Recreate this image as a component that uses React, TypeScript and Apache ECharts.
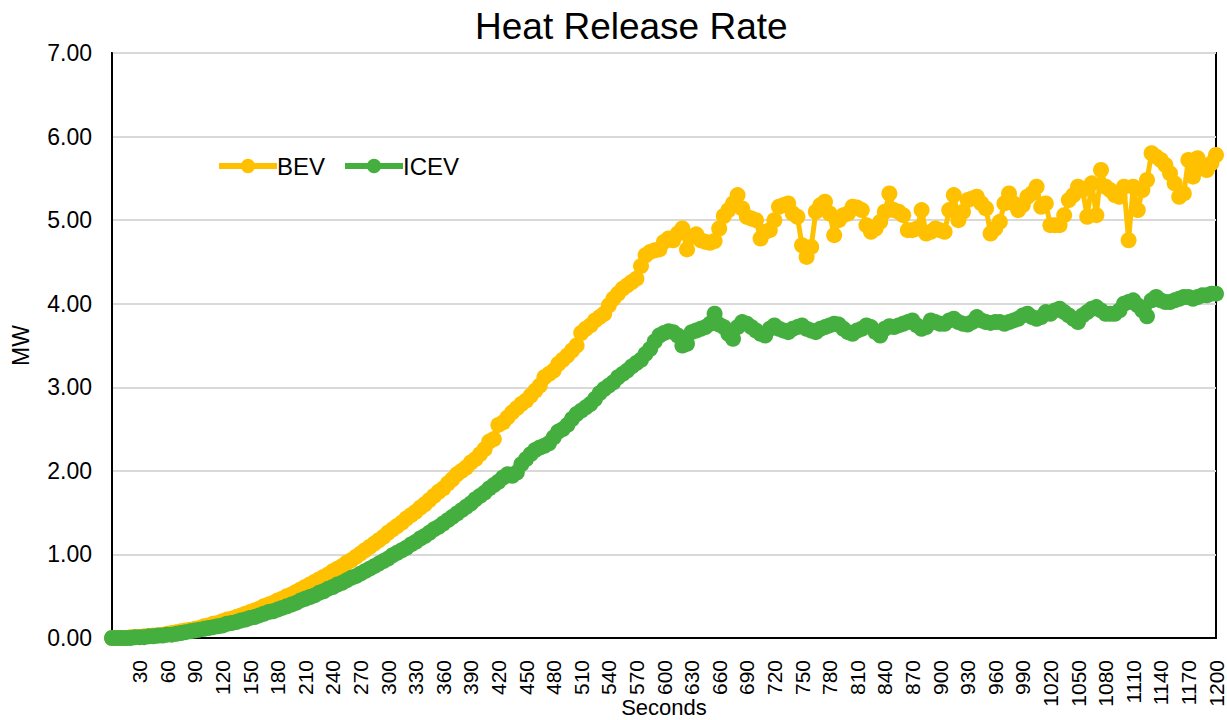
import React, { useEffect, useRef } from "react";
import * as echarts from "echarts";

// Sampling grid: every 5 seconds from 0 to 1200
const STEP = 5;
const bev: number[] = [
  0.00, 0.00, 0.00, 0.00, 0.01, 0.01, 0.01, 0.02, 0.02, 0.03,
  0.03, 0.04, 0.05, 0.06, 0.07, 0.08, 0.09, 0.10, 0.11, 0.12,
  0.14, 0.15, 0.17, 0.18, 0.20, 0.22, 0.23, 0.25, 0.27, 0.29,
  0.31, 0.33, 0.35, 0.38, 0.40, 0.42, 0.45, 0.47, 0.50, 0.52,
  0.55, 0.58, 0.61, 0.64, 0.67, 0.70, 0.73, 0.76, 0.80, 0.83,
  0.86, 0.90, 0.93, 0.97, 1.01, 1.05, 1.09, 1.13, 1.17, 1.21,
  1.26, 1.30, 1.34, 1.38, 1.43, 1.47, 1.51, 1.56, 1.60, 1.65,
  1.70, 1.75, 1.79, 1.85, 1.90, 1.96, 2.00, 2.04, 2.10, 2.14,
  2.20, 2.26, 2.35, 2.38, 2.55, 2.58, 2.64, 2.70, 2.75, 2.80,
  2.84, 2.90, 2.96, 3.02, 3.12, 3.16, 3.20, 3.28, 3.33, 3.38,
  3.44, 3.50, 3.65, 3.70, 3.74, 3.80, 3.84, 3.88, 3.98, 4.06,
  4.12, 4.18, 4.22, 4.26, 4.30, 4.45, 4.58, 4.62, 4.64, 4.65,
  4.74, 4.78, 4.76, 4.84, 4.90, 4.65, 4.80, 4.83, 4.76, 4.74,
  4.73, 4.75, 4.90, 5.05, 5.12, 5.20, 5.30, 5.14, 5.04, 5.02,
  5.00, 4.78, 4.86, 4.88, 5.00, 5.16, 5.18, 5.20, 5.08, 5.04,
  4.70, 4.56, 4.68, 5.10, 5.18, 5.22, 5.08, 4.82, 5.00, 5.06,
  5.08, 5.16, 5.15, 5.12, 4.94, 4.86, 4.90, 4.98, 5.10, 5.32,
  5.12, 5.10, 5.06, 4.88, 4.88, 4.90, 5.12, 4.84, 4.86, 4.90,
  4.88, 4.86, 5.12, 5.30, 5.00, 5.10, 5.24, 5.26, 5.28, 5.20,
  5.14, 4.84, 4.90, 4.98, 5.20, 5.32, 5.20, 5.12, 5.18, 5.28,
  5.32, 5.40, 5.16, 5.20, 4.94, 4.94, 4.94, 5.06, 5.24, 5.30,
  5.40, 5.36, 5.04, 5.44, 5.06, 5.60, 5.40, 5.36, 5.30, 5.28,
  5.40, 4.76, 5.40, 5.12, 5.36, 5.48, 5.80, 5.76, 5.72, 5.66,
  5.56, 5.44, 5.28, 5.32, 5.72, 5.52, 5.74, 5.62, 5.60, 5.68,
  5.78,
];
const icev: number[] = [
  0.00, 0.00, 0.00, 0.00, 0.00, 0.01, 0.01, 0.01, 0.02, 0.02,
  0.03, 0.03, 0.04, 0.04, 0.05, 0.06, 0.07, 0.08, 0.09, 0.10,
  0.11, 0.12, 0.13, 0.14, 0.15, 0.17, 0.18, 0.19, 0.21, 0.22,
  0.24, 0.25, 0.27, 0.29, 0.31, 0.32, 0.34, 0.36, 0.38, 0.40,
  0.42, 0.45, 0.47, 0.49, 0.51, 0.54, 0.56, 0.59, 0.61, 0.64,
  0.66, 0.69, 0.72, 0.74, 0.77, 0.80, 0.83, 0.86, 0.89, 0.92,
  0.95, 0.99, 1.02, 1.05, 1.08, 1.12, 1.15, 1.19, 1.22, 1.26,
  1.30, 1.33, 1.37, 1.41, 1.45, 1.49, 1.53, 1.57, 1.61, 1.66,
  1.70, 1.74, 1.79, 1.83, 1.87, 1.92, 1.96, 1.94, 1.98, 2.08,
  2.14, 2.20, 2.25, 2.28, 2.30, 2.33, 2.40, 2.47, 2.50, 2.55,
  2.62, 2.68, 2.72, 2.76, 2.80, 2.86, 2.93, 2.98, 3.02, 3.06,
  3.12, 3.16, 3.20, 3.25, 3.29, 3.33, 3.40, 3.46, 3.55, 3.62,
  3.65, 3.67, 3.66, 3.62, 3.50, 3.52, 3.66, 3.68, 3.70, 3.72,
  3.76, 3.88, 3.75, 3.72, 3.64, 3.58, 3.72, 3.78, 3.76, 3.72,
  3.68, 3.64, 3.62, 3.70, 3.74, 3.70, 3.68, 3.66, 3.70, 3.72,
  3.74, 3.70, 3.68, 3.66, 3.70, 3.72, 3.74, 3.76, 3.75, 3.70,
  3.66, 3.64, 3.68, 3.70, 3.74, 3.72, 3.66, 3.62, 3.70, 3.73,
  3.72, 3.74, 3.76, 3.78, 3.80, 3.74, 3.70, 3.72, 3.80, 3.78,
  3.76, 3.76, 3.80, 3.82, 3.78, 3.76, 3.75, 3.78, 3.84, 3.80,
  3.78, 3.77, 3.78, 3.78, 3.76, 3.78, 3.80, 3.82, 3.86, 3.88,
  3.84, 3.82, 3.84, 3.90, 3.88, 3.92, 3.94, 3.90, 3.86, 3.82,
  3.78, 3.86, 3.90, 3.94, 3.96, 3.92, 3.88, 3.88, 3.88, 3.92,
  4.00, 4.02, 4.04, 3.98, 3.92, 3.85, 4.04, 4.08, 4.04, 4.02,
  4.02, 4.04, 4.06, 4.08, 4.08, 4.06, 4.08, 4.10, 4.10, 4.12,
  4.12,
];
const seconds: number[] = bev.map((_, i) => i * STEP);
const seriesNames = ["BEV", "ICEV"];
const seriesColors = ["#FFC000", "#44AF3E"];

const FONT = "'Liberation Sans', Arial, sans-serif";

export default function App() {
  const ref = useRef<HTMLDivElement>(null);
  useEffect(() => {
    if (!ref.current) return;
    const chart = echarts.init(ref.current, undefined, { renderer: "svg" });
    const mk = (name: string, vals: number[], color: string) => ({
      name,
      type: "line",
      data: vals.map((v, i) => [seconds[i], v]),
      symbol: "circle",
      symbolSize: 16,
      showSymbol: true,
      lineStyle: { color, width: 5 },
      itemStyle: { color },
    });
    chart.setOption({
      animation: false,
      backgroundColor: "#fff",
      textStyle: { fontFamily: FONT, color: "#000" },
      title: {
        text: "Heat Release Rate",
        left: 475,
        top: 8,
        padding: 0,
        textStyle: { fontSize: 37, fontWeight: "normal", color: "#000", fontFamily: FONT },
      },
      legend: {
        left: 216,
        top: 154,
        padding: 0,
        itemWidth: 58,
        itemHeight: 18,
        itemGap: 17,
        lineStyle: { width: 6 },
        textStyle: { fontSize: 24, color: "#000", fontFamily: FONT, padding: [0, 0, 0, -5] },
        data: seriesNames,
      },
      grid: {
        left: 112,
        right: 11,
        top: 53,
        bottom: 82,
        show: true,
        borderColor: "#000",
        borderWidth: 2,
        containLabel: false,
        outerBoundsMode: "none",
      },
      xAxis: {
        type: "value",
        min: 0,
        max: 1200,
        interval: 30,
        name: "Seconds",
        nameLocation: "middle",
        nameGap: 58,
        nameMoveOverlap: false,
        nameTextStyle: { fontSize: 22, color: "#000", fontFamily: FONT },
        axisLine: { show: true, lineStyle: { color: "#000", width: 2 } },
        axisTick: { show: false },
        splitLine: { show: false },
        axisLabel: {
          rotate: 90,
          fontSize: 21,
          color: "#000",
          fontFamily: FONT,
          margin: 22,
          hideOverlap: false,
          formatter: (v: number) => (v === 0 ? "" : String(v)),
        },
      },
      yAxis: {
        type: "value",
        min: 0,
        max: 7,
        interval: 1,
        name: "MW",
        nameLocation: "middle",
        nameGap: 80,
        nameTextStyle: { fontSize: 23, color: "#000", fontFamily: FONT },
        axisLine: { show: true, lineStyle: { color: "#000", width: 2 } },
        axisTick: { show: false },
        splitLine: { show: true, lineStyle: { color: "#D9D9D9", width: 2 } },
        axisLabel: {
          fontSize: 23,
          color: "#000",
          fontFamily: FONT,
          margin: 20,
          formatter: (v: number) => v.toFixed(2),
        },
      },
      series: [
        mk(seriesNames[0], bev, seriesColors[0]),
        mk(seriesNames[1], icev, seriesColors[1]),
      ],
    });
    return () => chart.dispose();
  }, []);
  return (
    <div
      ref={ref}
      style={{ position: "fixed", left: 0, top: 0, width: 1227, height: 720, background: "#fff" }}
    />
  );
}
